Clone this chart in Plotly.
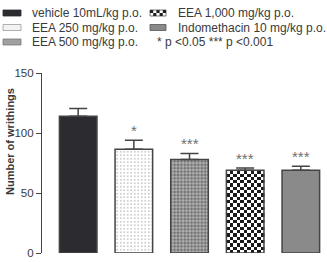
import numpy as np
import plotly.graph_objects as go

groups = ["vehicle 10mL/kg p.o.", "EEA 250 mg/kg p.o.", "EEA 500 mg/kg p.o.",
          "EEA 1,000 mg/kg p.o.", "Indomethacin 10 mg/kg p.o."]
means = [114, 86.5, 78, 69, 69]
sems = [6.5, 7.5, 5, 1.8, 3.3]
sig = ["", "*", "***", "***", "***"]
y_ticks = [0, 50, 100, 150]
y_title = "Number of writhings"
legend_note = "* p <0.05 *** p <0.001"

W, H = 327, 262
L, R, T, B = 42, 0, 73, 9
PW, PH = W - L - R, H - T - B
FONT = "Arial, Liberation Sans, sans-serif"
TXT = "#3a3a3a"
EDGE = "#444444"
BAR_W = 0.675

def px(x):
    return (x - L) / PW

def py(y):
    return (H - B - y) / PH

fills = ["#2c2c30", "#ffffff", "#707070", "rgba(0,0,0,0)", "#8a8a8a"]
patterns = [
    dict(shape=""),
    dict(shape=".", fgcolor="#8c8c8c", bgcolor="#ffffff", size=3.5, solidity=0.12, fillmode="replace"),
    dict(shape="+", fgcolor="#d4d4d4", bgcolor="#707070", size=3.4, solidity=0.35, fillmode="replace"),
    dict(shape=""),
    dict(shape=""),
]

fig = go.Figure()

# checkerboard texture for the EEA 1,000 bar (derived from its value)
ci = 3
ncol = 11
nrow = max(1, int(round(means[ci] / 2.75)))
xe = np.linspace(ci - BAR_W / 2, ci + BAR_W / 2, ncol + 1)
ye = np.linspace(0, means[ci], nrow + 1)
z = [[(r + c) % 2 for c in range(ncol)] for r in range(nrow)]
fig.add_trace(go.Heatmap(x=xe, y=ye, z=z, colorscale=[[0, "#ffffff"], [1, "#1a1a1a"]],
                         showscale=False, hoverinfo="skip", zmin=0, zmax=1))

for i, g in enumerate(groups):
    fig.add_trace(go.Bar(
        x=[i], y=[means[i]], width=BAR_W, name=g, showlegend=False,
        marker=dict(color=fills[i], line=dict(color=EDGE, width=1.5), pattern=patterns[i]),
        error_y=dict(type="data", symmetric=False, array=[sems[i]], arrayminus=[0],
                     color=EDGE, thickness=1.5, width=9),
    ))
    if sig[i]:
        fig.add_annotation(x=i, y=means[i] + sems[i], text=sig[i], showarrow=False,
                           yshift=10, font=dict(family=FONT, size=15, color="#707070"))

# manual legend
rows = [13, 27.5, 42]
items = [(0, 0, 0), (0, 1, 1), (0, 2, 2), (1, 0, 3), (1, 1, 4)]
sw_x = [(3, 21), (150, 166)]
txt_x = [30, 176]
for col, row, idx in items:
    x0, x1 = sw_x[col]
    yc = rows[row]
    y0, y1 = yc - 3, yc + 3
    if idx == 3:
        fig.add_shape(type="rect", xref="paper", yref="paper", x0=px(x0), x1=px(x1),
                      y0=py(y1), y1=py(y0), fillcolor="#ffffff", line=dict(color="#555", width=0.8))
        n = 0
        cx = x0
        while cx < x1 - 0.5:
            for k, (a, b) in enumerate([(y0, yc), (yc, y1)]):
                if (n + k) % 2 == 0:
                    fig.add_shape(type="rect", xref="paper", yref="paper",
                                  x0=px(cx), x1=px(min(cx + 3.2, x1)), y0=py(b), y1=py(a),
                                  fillcolor="#222", line=dict(width=0))
            cx += 3.2
            n += 1
    else:
        sf = {0: "#2c2c30", 1: "#f2f2f2", 2: "#a0a0a0", 4: "#8a8a8a"}[idx]
        sl = {0: "#2c2c30", 1: "#9a9a9a", 2: "#777", 4: "#555"}[idx]
        fig.add_shape(type="rect", xref="paper", yref="paper", x0=px(x0), x1=px(x1),
                      y0=py(y1), y1=py(y0), fillcolor=sf, line=dict(color=sl, width=0.8))
    fig.add_annotation(xref="paper", yref="paper", x=px(txt_x[col]), y=py(yc),
                       text=groups[idx], showarrow=False, xanchor="left", yanchor="middle",
                       font=dict(family=FONT, size=12, color=TXT))
fig.add_annotation(xref="paper", yref="paper", x=px(155), y=py(rows[2]),
                   text=legend_note, showarrow=False, xanchor="left", yanchor="middle",
                   font=dict(family=FONT, size=12, color=TXT))

# y-axis title
fig.add_annotation(xref="paper", yref="paper", x=px(10), y=py(142), text="<b>" + y_title + "</b>",
                   textangle=-90, showarrow=False, xanchor="center", yanchor="middle",
                   font=dict(family=FONT, size=11, color=TXT))

fig.update_layout(
    width=W, height=H, margin=dict(l=L, r=R, t=T, b=B),
    paper_bgcolor="white", plot_bgcolor="white", barmode="overlay",
    font=dict(family=FONT, color=TXT),
    xaxis=dict(range=[-0.65, 4.47], showline=False, showgrid=False, zeroline=False,
               showticklabels=False, ticks=""),
    yaxis=dict(range=[0, 150], tickvals=y_ticks, showline=True, linecolor=EDGE, linewidth=1.2,
               ticks="outside", ticklen=5, tickcolor=EDGE, tickwidth=1.2,
               showgrid=False, zeroline=False,
               tickfont=dict(family=FONT, size=11.5, color=TXT)),
)
fig.write_html("out.html")
